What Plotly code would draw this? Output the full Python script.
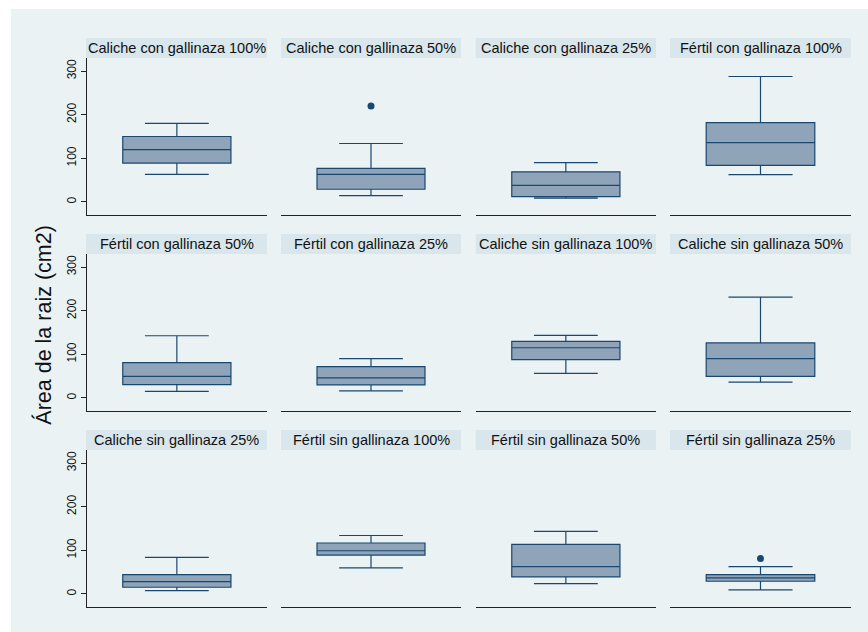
import plotly.graph_objects as go

# ---- data ----
panels = [
    "Caliche con gallinaza 100%", "Caliche con gallinaza 50%", "Caliche con gallinaza 25%", "Fértil con gallinaza 100%",
    "Fértil con gallinaza 50%", "Fértil con gallinaza 25%", "Caliche sin gallinaza 100%", "Caliche sin gallinaza 50%",
    "Caliche sin gallinaza 25%", "Fértil sin gallinaza 100%", "Fértil sin gallinaza 50%", "Fértil sin gallinaza 25%",
]
lower_adj = [63, 14.5, 8.5, 62.5, 15, 16, 56.5, 36, 7.7, 59.5, 23.8, 9.2]
q1 = [89, 29, 12, 84, 30.5, 29.7, 87.7, 49.6, 15.3, 89, 39, 29]
median = [120, 63, 38, 136, 49.6, 45.8, 115, 90, 28.3, 99, 62.7, 36.6]
q3 = [150, 77, 69, 182, 81, 71.7, 129.7, 126, 44.4, 116.8, 113.7, 44.4]
upper_adj = [180, 134, 90, 287.6, 142.6, 90, 143.4, 231, 84, 134, 143.5, 62.7]
outliers = [[], [220], [], [], [], [], [], [], [], [], [], [81]]
y_ticks = [0, 100, 200, 300]
y_title = "Área de la raiz (cm2)"

# ---- styling / geometry ----
W, H = 868, 632
NAVY = "#1A476F"
FILL = "#8FA4B8"
BG = "#EAF2F3"
STRIP = "#D9E6EB"
FONT = "Liberation Sans, Arial, sans-serif"
col_x = [(86.7, 267), (281, 461), (475.7, 656), (670, 851)]
row_top = [58, 254, 450]
plot_h = 157
strip_h = 20

fig = go.Figure()
shapes = [dict(type="rect", xref="paper", yref="paper", x0=11 / W, x1=1, y0=0, y1=1 - 9 / H,
               fillcolor=BG, line=dict(width=0), layer="below")]
annotations = []
layout = {}

for i, name in enumerate(panels):
    r, c = divmod(i, 4)
    k = "" if i == 0 else str(i + 1)
    xa, ya = "x" + k, "y" + k
    x0, x1 = col_x[c]
    top = row_top[r]
    bot = top + plot_h
    fig.add_trace(go.Box(
        x=[0.5], q1=[q1[i]], median=[median[i]], q3=[q3[i]],
        lowerfence=[lower_adj[i]], upperfence=[upper_adj[i]],
        width=0.6, whiskerwidth=0.59, boxpoints=False,
        fillcolor=FILL, line=dict(color=NAVY, width=1.2),
        xaxis=xa, yaxis=ya, showlegend=False, hoverinfo="skip"))
    if outliers[i]:
        fig.add_trace(go.Scatter(
            x=[0.5] * len(outliers[i]), y=outliers[i], mode="markers",
            marker=dict(color=NAVY, size=7), xaxis=xa, yaxis=ya,
            showlegend=False, hoverinfo="skip"))
    layout["xaxis" + k] = dict(
        domain=[x0 / W, x1 / W], range=[0, 1], anchor=ya,
        showgrid=False, zeroline=False, showticklabels=False, ticks="",
        showline=True, linecolor="#222222", linewidth=1.2, fixedrange=True)
    layout["yaxis" + k] = dict(
        domain=[1 - bot / H, 1 - top / H], range=[-30, 330], anchor=xa,
        tickvals=y_ticks, showgrid=True, gridcolor=BG, gridwidth=1.5,
        zeroline=False, showticklabels=(c == 0), ticks="outside" if c == 0 else "",
        ticklen=5, tickwidth=1, tickcolor="#222222", tickangle=-90,
        tickfont=dict(size=12, color="#111111", family=FONT),
        showline=(c == 0), linecolor="#222222", linewidth=1, fixedrange=True)
    # strip
    shapes.append(dict(type="rect", xref="paper", yref="paper",
                       x0=(86 if c == 0 else x0) / W, x1=x1 / W,
                       y0=1 - top / H, y1=1 - (top - strip_h) / H,
                       fillcolor=STRIP, line=dict(width=0), layer="below"))
    annotations.append(dict(text=name, xref="paper", yref="paper",
                            x=(x0 + x1) / 2 / W, y=1 - (top - strip_h / 2) / H,
                            showarrow=False, xanchor="center", yanchor="middle",
                            font=dict(size=14.5, color="#111111", family=FONT)))

annotations.append(dict(text=y_title, xref="paper", yref="paper", x=42.7 / W, y=1 - 325 / H,
                        textangle=-90, showarrow=False, xanchor="center", yanchor="middle",
                        font=dict(size=21.5, color="#111111", family=FONT)))

fig.update_layout(width=W, height=H, margin=dict(l=0, r=0, t=0, b=0),
                  paper_bgcolor="white", plot_bgcolor="white",
                  shapes=shapes, annotations=annotations, **layout)
fig.write_html("out.html")
